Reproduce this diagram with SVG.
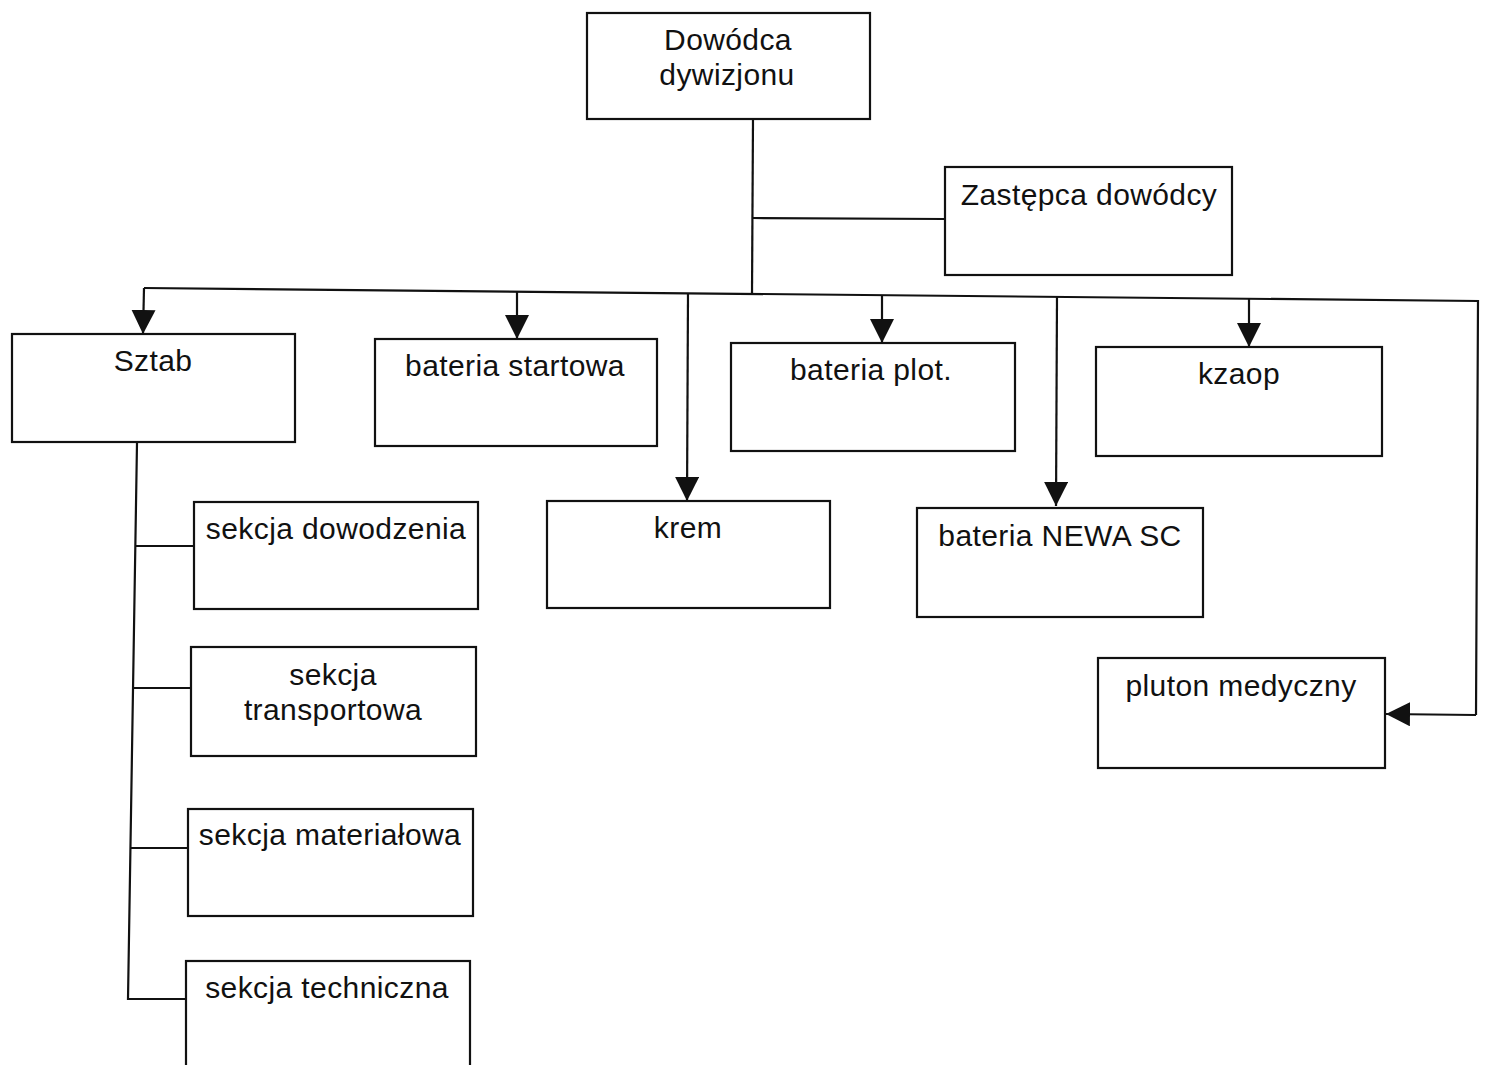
<svg xmlns="http://www.w3.org/2000/svg" width="1485" height="1065" viewBox="0 0 1485 1065">
  <style>
    .box { fill: #ffffff; stroke: #111111; stroke-width: 2.2; }
    .lbl { font-family: "Liberation Sans", Arial, sans-serif; font-size: 30px; fill: #111111; text-anchor: middle; letter-spacing: 0.4px; }
    .wire { fill: none; stroke: #111111; stroke-width: 2.2; }
    .arr { fill: none; stroke: #111111; stroke-width: 2.2; marker-end: url(#head); }
  </style>
  <defs>
    <marker id="head" viewBox="0 0 24 24" refX="24" refY="12" markerWidth="24" markerHeight="24" markerUnits="userSpaceOnUse" orient="auto">
      <path d="M0,0 L24,12 L0,24 Z" fill="#111111"/>
    </marker>
  </defs>
  <rect width="1485" height="1065" fill="#ffffff"/>

  <!-- connectors -->
  <g id="connectors">
    <!-- commander trunk and deputy branch -->
    <polyline class="wire" points="753,119 752,294"/>
    <polyline class="wire" points="753,218 945,219"/>
    <!-- distribution bus -->
    <polyline class="wire" points="144,288 1478,301 1476,715"/>
    <!-- drops to units -->
    <polyline class="arr" points="144,288 143,334"/>
    <polyline class="arr" points="517,291.6 517,339"/>
    <polyline class="arr" points="688,293.3 687,501"/>
    <polyline class="arr" points="882,295.2 882,343"/>
    <polyline class="arr" points="1057,296.9 1056,506"/>
    <polyline class="arr" points="1249,298.8 1249,347"/>
    <polyline class="arr" points="1476,715 1386,714"/>
    <!-- staff sections -->
    <polyline class="wire" points="137,443 128,999 186,999"/>
    <polyline class="wire" points="135.3,546 194,546"/>
    <polyline class="wire" points="133,688 191,688"/>
    <polyline class="wire" points="130.4,848 189,848"/>
  </g>

  <g id="dowodca">
    <rect class="box" x="587" y="13" width="283" height="106"/>
    <text class="lbl" x="728" y="50">Dowódca</text>
    <text class="lbl" x="727" y="85">dywizjonu</text>
  </g>
  <g id="zastepca">
    <rect class="box" x="945" y="167" width="287" height="108"/>
    <text class="lbl" x="1089" y="205">Zastępca dowódcy</text>
  </g>
  <g id="sztab">
    <rect class="box" x="12" y="334" width="283" height="108"/>
    <text class="lbl" x="153" y="371">Sztab</text>
  </g>
  <g id="bateria-startowa">
    <rect class="box" x="375" y="339" width="282" height="107"/>
    <text class="lbl" x="515" y="376">bateria startowa</text>
  </g>
  <g id="bateria-plot">
    <rect class="box" x="731" y="343" width="284" height="108"/>
    <text class="lbl" x="871" y="380">bateria plot.</text>
  </g>
  <g id="kzaop">
    <rect class="box" x="1096" y="347" width="286" height="109"/>
    <text class="lbl" x="1239" y="384">kzaop</text>
  </g>
  <g id="krem">
    <rect class="box" x="547" y="501" width="283" height="107"/>
    <text class="lbl" x="688" y="538">krem</text>
  </g>
  <g id="bateria-newa">
    <rect class="box" x="917" y="508" width="286" height="109"/>
    <text class="lbl" x="1060" y="546">bateria NEWA SC</text>
  </g>
  <g id="pluton-medyczny">
    <rect class="box" x="1098" y="658" width="287" height="110"/>
    <text class="lbl" x="1241" y="696">pluton medyczny</text>
  </g>
  <g id="sekcja-dowodzenia">
    <rect class="box" x="194" y="502" width="284" height="107"/>
    <text class="lbl" x="336" y="539">sekcja dowodzenia</text>
  </g>
  <g id="sekcja-transportowa">
    <rect class="box" x="191" y="647" width="285" height="109"/>
    <text class="lbl" x="333" y="685">sekcja</text>
    <text class="lbl" x="333" y="720">transportowa</text>
  </g>
  <g id="sekcja-materialowa">
    <rect class="box" x="188" y="809" width="285" height="107"/>
    <text class="lbl" x="330" y="845">sekcja materiałowa</text>
  </g>
  <g id="sekcja-techniczna">
    <rect class="box" x="186" y="961" width="284" height="120"/>
    <text class="lbl" x="327" y="998">sekcja techniczna</text>
  </g>
</svg>
